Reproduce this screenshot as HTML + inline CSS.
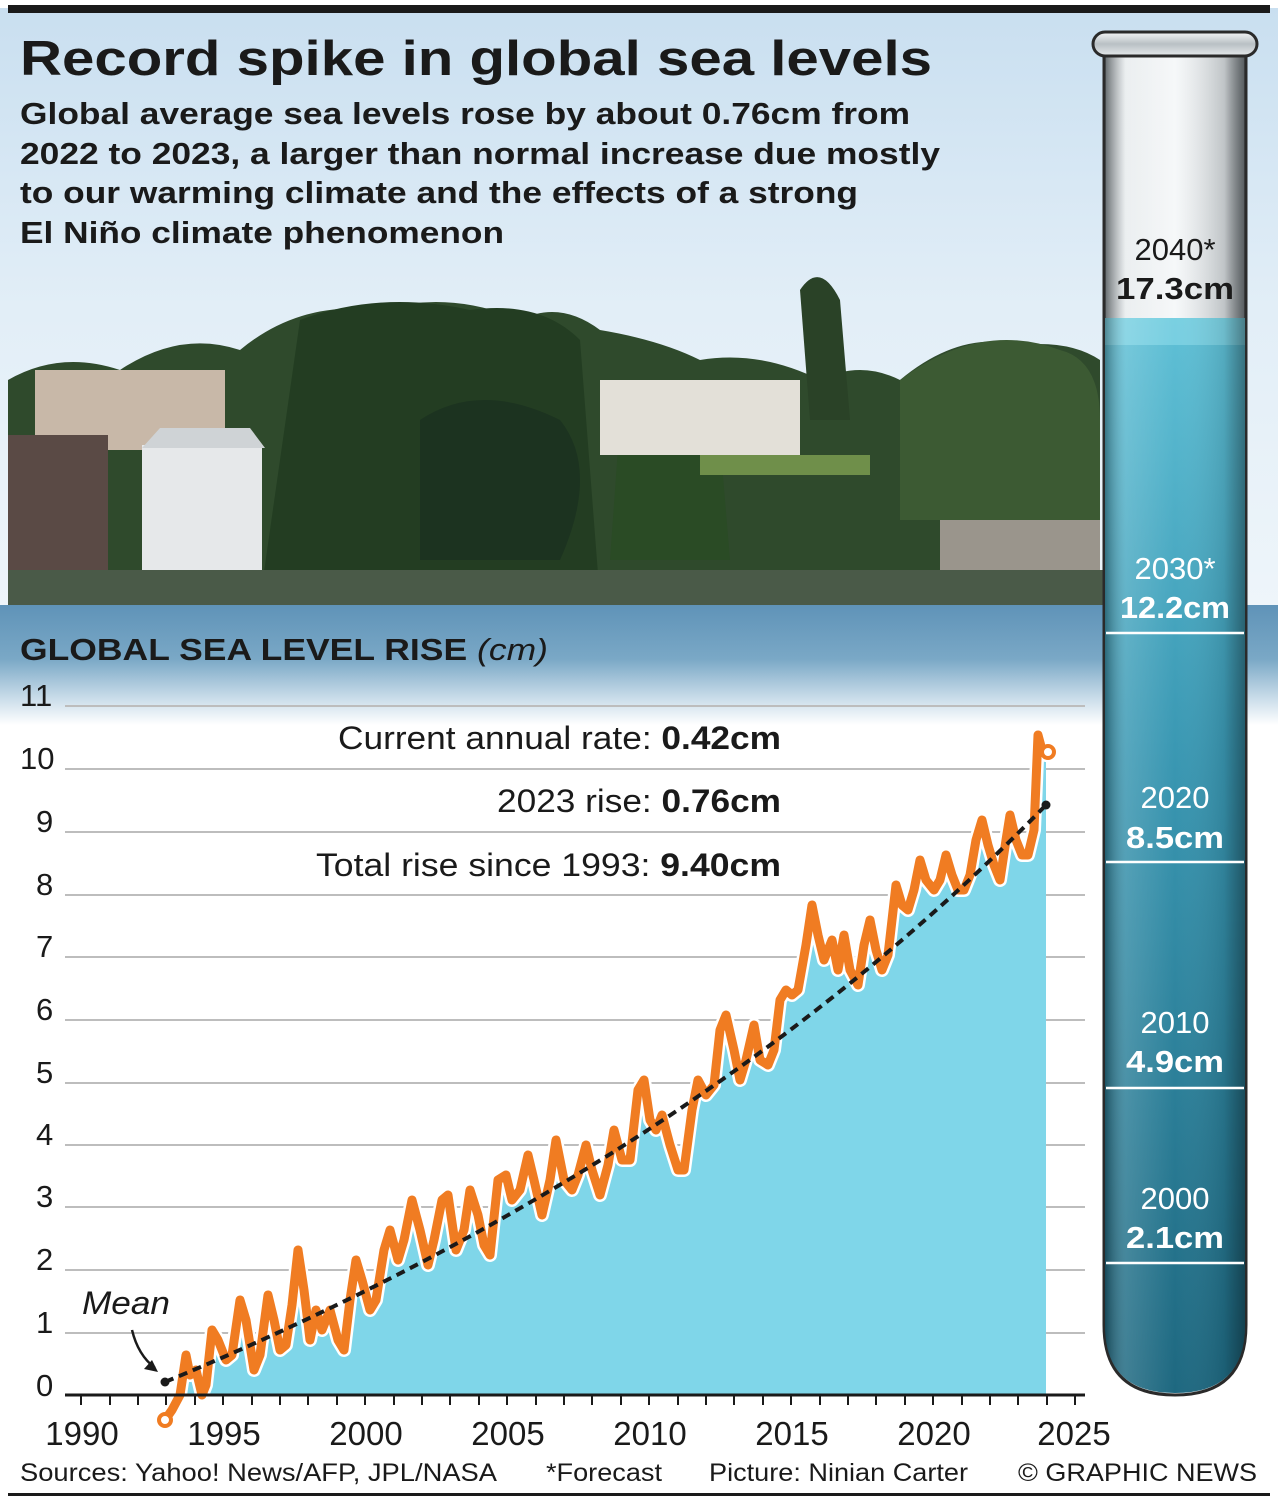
<!DOCTYPE html>
<html><head><meta charset="utf-8"><style>
body{margin:0;width:1278px;height:1502px;overflow:hidden;background:#fff;font-family:"Liberation Sans",sans-serif;}
</style></head><body>
<svg width="1278" height="1502" viewBox="0 0 1278 1502" xmlns="http://www.w3.org/2000/svg" font-family="Liberation Sans, sans-serif">
<defs>
<linearGradient id="sky" x1="0" y1="0" x2="0" y2="1">
<stop offset="0" stop-color="#c9dff0"/><stop offset="0.5" stop-color="#e2eef7"/><stop offset="1" stop-color="#eef5fa"/></linearGradient>
<linearGradient id="water" x1="0" y1="0" x2="0" y2="1">
<stop offset="0" stop-color="#5f93b8"/><stop offset="0.45" stop-color="#7aa8c6"/><stop offset="0.8" stop-color="#cfe0ec"/><stop offset="1" stop-color="#ffffff"/></linearGradient>
<linearGradient id="tw" x1="0" y1="0" x2="0" y2="1">
<stop offset="0" stop-color="#5fc0d6"/><stop offset="0.4" stop-color="#3a98b3"/><stop offset="1" stop-color="#1e6880"/></linearGradient>
<linearGradient id="tg" x1="0" y1="0" x2="1" y2="0">
<stop offset="0" stop-color="#9aa3a8"/><stop offset="0.15" stop-color="#e8ecee"/><stop offset="0.5" stop-color="#f6f8f9"/><stop offset="0.85" stop-color="#d5dadd"/><stop offset="1" stop-color="#8d969b"/></linearGradient>
<linearGradient id="ts" x1="0" y1="0" x2="1" y2="0">
<stop offset="0" stop-color="#000" stop-opacity="0.35"/><stop offset="0.15" stop-color="#fff" stop-opacity="0.15"/><stop offset="0.5" stop-color="#fff" stop-opacity="0"/><stop offset="0.85" stop-color="#000" stop-opacity="0.1"/><stop offset="1" stop-color="#000" stop-opacity="0.4"/></linearGradient>
<linearGradient id="rim" x1="0" y1="0" x2="0" y2="1">
<stop offset="0" stop-color="#f4f6f7"/><stop offset="0.5" stop-color="#b9c0c4"/><stop offset="1" stop-color="#e6eaec"/></linearGradient>
</defs>
<rect x="0" y="8" width="1278" height="600" fill="url(#sky)"/>
<g>
<path d="M8 380 Q60 350 120 370 Q180 330 240 350 Q300 300 380 310 Q450 290 520 320 Q560 300 600 330 Q660 340 700 360 Q760 350 820 380 Q860 360 900 380 Q960 330 1020 345 Q1070 340 1100 360 L1100 600 L8 600 Z" fill="#2f4a2c"/>
<path d="M300 320 Q380 290 470 310 Q540 300 580 340 L600 600 L260 600 Z" fill="#233d22"/>
<path d="M800 290 Q820 260 840 300 L850 420 L810 420 Z" fill="#2a4227"/>
<path d="M900 380 Q980 320 1060 350 Q1100 360 1100 420 L1100 520 L900 520 Z" fill="#3c5a33"/>
<path d="M420 420 Q480 380 560 420 Q600 470 560 560 L420 560 Z" fill="#1c3320"/>
<path d="M620 420 Q680 390 720 440 L730 560 L610 560 Z" fill="#2a4b25"/>
<rect x="35" y="370" width="190" height="80" fill="#c8b8a8"/>
<rect x="8" y="435" width="100" height="145" fill="#5a4a45"/>
<rect x="142" y="445" width="120" height="130" fill="#e6e8ea"/>
<path d="M142 448 L160 428 L250 428 L265 448 Z" fill="#cfd3d6"/>
<rect x="600" y="380" width="200" height="75" fill="#e3e0d8"/>
<rect x="700" y="455" width="170" height="20" fill="#6f8f4a"/>
<rect x="940" y="520" width="160" height="70" fill="#9a958c"/>
<rect x="8" y="570" width="1095" height="40" fill="#4a5a48"/>
</g>
<rect x="0" y="605" width="1278" height="120" fill="url(#water)"/>
<rect x="0" y="0" width="1278" height="8" fill="#fff"/>
<rect x="8" y="5" width="1262" height="8" fill="#1a1a1a"/>
<text x="20" y="75" font-size="49" font-weight="bold" fill="#1a1a1a" textLength="912" lengthAdjust="spacingAndGlyphs">Record spike in global sea levels</text>
<g font-size="31" font-weight="bold" fill="#1a1a1a">
<text x="20" y="124" textLength="890" lengthAdjust="spacingAndGlyphs">Global average sea levels rose by about 0.76cm from</text>
<text x="20" y="164" textLength="920" lengthAdjust="spacingAndGlyphs">2022 to 2023, a larger than normal increase due mostly</text>
<text x="20" y="203" textLength="838" lengthAdjust="spacingAndGlyphs">to our warming climate and the effects of a strong</text>
<text x="20" y="243" textLength="484" lengthAdjust="spacingAndGlyphs">El Niño climate phenomenon</text>
</g>
<text x="20" y="660" font-size="31" font-weight="bold" fill="#1a1a1a" textLength="528" lengthAdjust="spacingAndGlyphs">GLOBAL SEA LEVEL RISE <tspan font-weight="normal" font-style="italic">(cm)</tspan></text>
<g stroke="#bdbdbd" stroke-width="2">
<line x1="65" y1="706" x2="1085" y2="706"/><line x1="65" y1="769" x2="1085" y2="769"/><line x1="65" y1="832" x2="1085" y2="832"/><line x1="65" y1="895" x2="1085" y2="895"/><line x1="65" y1="957" x2="1085" y2="957"/><line x1="65" y1="1020" x2="1085" y2="1020"/><line x1="65" y1="1083" x2="1085" y2="1083"/><line x1="65" y1="1145" x2="1085" y2="1145"/><line x1="65" y1="1207" x2="1085" y2="1207"/><line x1="65" y1="1270" x2="1085" y2="1270"/><line x1="65" y1="1333" x2="1085" y2="1333"/>
</g>
<g font-size="31" fill="#1a1a1a">
<text x="20" y="706">11</text><text x="20" y="769">10</text><text x="36" y="832">9</text><text x="36" y="895">8</text><text x="36" y="957">7</text><text x="36" y="1020">6</text><text x="36" y="1083">5</text><text x="36" y="1145">4</text><text x="36" y="1207">3</text><text x="36" y="1270">2</text><text x="36" y="1333">1</text><text x="36" y="1396">0</text>
</g>
<polygon fill="#7fd6e9" points="180,1395 186,1355 190,1375 196,1370 202,1395 206,1385 212,1330 218,1340 226,1360 232,1355 240,1300 246,1320 254,1370 260,1355 268,1295 274,1320 280,1350 286,1345 292,1305 298,1250 304,1290 310,1340 316,1310 322,1330 330,1310 338,1340 344,1350 350,1300 356,1260 362,1280 370,1310 376,1300 384,1250 390,1230 398,1260 404,1240 412,1200 420,1230 428,1265 434,1240 442,1200 448,1195 456,1250 464,1230 470,1190 478,1215 484,1245 490,1255 498,1180 506,1175 512,1200 520,1190 528,1155 534,1180 542,1215 550,1180 556,1140 564,1180 572,1190 578,1175 586,1145 592,1170 600,1195 608,1165 614,1130 622,1160 630,1160 638,1090 644,1080 650,1120 656,1130 662,1115 670,1145 678,1170 684,1170 692,1110 698,1080 706,1095 714,1085 720,1030 726,1015 734,1050 740,1080 746,1060 754,1025 760,1060 768,1065 774,1050 780,1000 786,990 792,995 798,990 806,945 812,905 818,935 824,960 832,940 838,970 844,935 850,970 858,985 864,945 870,920 876,950 882,970 888,955 896,885 902,905 908,910 914,890 920,860 926,880 934,890 940,880 946,855 952,875 958,890 964,890 970,875 976,840 982,820 988,845 994,865 1000,880 1006,840 1010,815 1016,840 1022,855 1028,855 1034,830 1038,735 1042,750 1046,755 1046,1395"/>
<polyline fill="none" stroke="#fff" stroke-width="14" stroke-linejoin="round" stroke-linecap="round" points="165,1420 172,1410 180,1395 186,1355 190,1375 196,1370 202,1395 206,1385 212,1330 218,1340 226,1360 232,1355 240,1300 246,1320 254,1370 260,1355 268,1295 274,1320 280,1350 286,1345 292,1305 298,1250 304,1290 310,1340 316,1310 322,1330 330,1310 338,1340 344,1350 350,1300 356,1260 362,1280 370,1310 376,1300 384,1250 390,1230 398,1260 404,1240 412,1200 420,1230 428,1265 434,1240 442,1200 448,1195 456,1250 464,1230 470,1190 478,1215 484,1245 490,1255 498,1180 506,1175 512,1200 520,1190 528,1155 534,1180 542,1215 550,1180 556,1140 564,1180 572,1190 578,1175 586,1145 592,1170 600,1195 608,1165 614,1130 622,1160 630,1160 638,1090 644,1080 650,1120 656,1130 662,1115 670,1145 678,1170 684,1170 692,1110 698,1080 706,1095 714,1085 720,1030 726,1015 734,1050 740,1080 746,1060 754,1025 760,1060 768,1065 774,1050 780,1000 786,990 792,995 798,990 806,945 812,905 818,935 824,960 832,940 838,970 844,935 850,970 858,985 864,945 870,920 876,950 882,970 888,955 896,885 902,905 908,910 914,890 920,860 926,880 934,890 940,880 946,855 952,875 958,890 964,890 970,875 976,840 982,820 988,845 994,865 1000,880 1006,840 1010,815 1016,840 1022,855 1028,855 1034,830 1038,735 1042,750 1046,755"/>
<polyline fill="none" stroke="#f07c22" stroke-width="9" stroke-linejoin="round" stroke-linecap="round" points="165,1420 172,1410 180,1395 186,1355 190,1375 196,1370 202,1395 206,1385 212,1330 218,1340 226,1360 232,1355 240,1300 246,1320 254,1370 260,1355 268,1295 274,1320 280,1350 286,1345 292,1305 298,1250 304,1290 310,1340 316,1310 322,1330 330,1310 338,1340 344,1350 350,1300 356,1260 362,1280 370,1310 376,1300 384,1250 390,1230 398,1260 404,1240 412,1200 420,1230 428,1265 434,1240 442,1200 448,1195 456,1250 464,1230 470,1190 478,1215 484,1245 490,1255 498,1180 506,1175 512,1200 520,1190 528,1155 534,1180 542,1215 550,1180 556,1140 564,1180 572,1190 578,1175 586,1145 592,1170 600,1195 608,1165 614,1130 622,1160 630,1160 638,1090 644,1080 650,1120 656,1130 662,1115 670,1145 678,1170 684,1170 692,1110 698,1080 706,1095 714,1085 720,1030 726,1015 734,1050 740,1080 746,1060 754,1025 760,1060 768,1065 774,1050 780,1000 786,990 792,995 798,990 806,945 812,905 818,935 824,960 832,940 838,970 844,935 850,970 858,985 864,945 870,920 876,950 882,970 888,955 896,885 902,905 908,910 914,890 920,860 926,880 934,890 940,880 946,855 952,875 958,890 964,890 970,875 976,840 982,820 988,845 994,865 1000,880 1006,840 1010,815 1016,840 1022,855 1028,855 1034,830 1038,735 1042,750 1046,755"/>
<circle cx="165" cy="1420" r="6" fill="#fff" stroke="#f07c22" stroke-width="4"/>
<circle cx="1048" cy="752" r="6" fill="#fff" stroke="#f07c22" stroke-width="4"/>
<path d="M165 1382 Q700 1160 1046 805" fill="none" stroke="#1a1a1a" stroke-width="4" stroke-dasharray="9 6"/>
<circle cx="165" cy="1382" r="4.5" fill="#1a1a1a"/><circle cx="1046" cy="805" r="4.5" fill="#1a1a1a"/>
<text x="82" y="1314" font-size="32" font-style="italic" fill="#1a1a1a" textLength="88" lengthAdjust="spacingAndGlyphs">Mean</text>
<path d="M132 1330 Q138 1355 155 1368" fill="none" stroke="#1a1a1a" stroke-width="2.5"/>
<path d="M158 1372 L144 1369 L152 1360 Z" fill="#1a1a1a"/>
<line x1="65" y1="1395" x2="1085" y2="1395" stroke="#1a1a1a" stroke-width="3"/>
<path stroke="#1a1a1a" stroke-width="2" d="M81 1395v10M110 1395v10M138 1395v10M166 1395v10M195 1395v10M223 1395v10M252 1395v10M280 1395v10M308 1395v10M337 1395v10M365 1395v10M394 1395v10M422 1395v10M450 1395v10M479 1395v10M507 1395v10M536 1395v10M564 1395v10M592 1395v10M621 1395v10M649 1395v10M678 1395v10M706 1395v10M734 1395v10M763 1395v10M791 1395v10M820 1395v10M848 1395v10M876 1395v10M905 1395v10M933 1395v10M962 1395v10M990 1395v10M1018 1395v10M1047 1395v10M1075 1395v10"/>
<g font-size="33" fill="#1a1a1a" text-anchor="middle">
<text x="82" y="1445">1990</text><text x="224" y="1445">1995</text><text x="366" y="1445">2000</text><text x="508" y="1445">2005</text><text x="650" y="1445">2010</text><text x="792" y="1445">2015</text><text x="934" y="1445">2020</text><text x="1074" y="1445">2025</text>
</g>
<g font-size="32" fill="#1a1a1a">
<text x="338" y="749" textLength="443" lengthAdjust="spacingAndGlyphs">Current annual rate: <tspan font-weight="bold">0.42cm</tspan></text>
<text x="497" y="812" textLength="284" lengthAdjust="spacingAndGlyphs">2023 rise: <tspan font-weight="bold">0.76cm</tspan></text>
<text x="316" y="876" textLength="465" lengthAdjust="spacingAndGlyphs">Total rise since 1993: <tspan font-weight="bold">9.40cm</tspan></text>
</g>
<path d="M1104 50 L1104 1325 Q1104 1395 1175 1395 Q1246 1395 1246 1325 L1246 50 Z" fill="url(#tg)" stroke="#2a2a2a" stroke-width="3"/>
<path d="M1105 318 L1105 1325 Q1105 1393 1175 1393 Q1245 1393 1245 1325 L1245 318 Z" fill="url(#tw)"/>
<path d="M1105 318 L1245 318 L1245 345 L1105 345 Z" fill="#7fd3e4" opacity="0.8"/>
<path d="M1105 50 L1105 1325 Q1105 1393 1175 1393 Q1245 1393 1245 1325 L1245 50 Z" fill="url(#ts)"/>
<rect x="1093" y="32" width="164" height="24" rx="12" fill="url(#rim)" stroke="#2a2a2a" stroke-width="3"/>
<g stroke="#fff" stroke-width="2.5"><line x1="1106" y1="633" x2="1244" y2="633"/><line x1="1106" y1="862" x2="1244" y2="862"/><line x1="1106" y1="1088" x2="1244" y2="1088"/><line x1="1106" y1="1263" x2="1244" y2="1263"/></g>
<g text-anchor="middle" font-size="31">
<text x="1175" y="260" fill="#1a1a1a">2040*</text><text x="1175" y="299" fill="#1a1a1a" font-weight="bold" textLength="118" lengthAdjust="spacingAndGlyphs">17.3cm</text>
<text x="1175" y="579" fill="#fff">2030*</text><text x="1175" y="618" fill="#fff" font-weight="bold" textLength="110" lengthAdjust="spacingAndGlyphs">12.2cm</text>
<text x="1175" y="808" fill="#fff">2020</text><text x="1175" y="848" fill="#fff" font-weight="bold" textLength="98" lengthAdjust="spacingAndGlyphs">8.5cm</text>
<text x="1175" y="1033" fill="#fff">2010</text><text x="1175" y="1072" fill="#fff" font-weight="bold" textLength="98" lengthAdjust="spacingAndGlyphs">4.9cm</text>
<text x="1175" y="1209" fill="#fff">2000</text><text x="1175" y="1248" fill="#fff" font-weight="bold" textLength="98" lengthAdjust="spacingAndGlyphs">2.1cm</text>
</g>
<g font-size="25" fill="#1a1a1a">
<text x="20" y="1481" textLength="477" lengthAdjust="spacingAndGlyphs">Sources: Yahoo! News/AFP, JPL/NASA</text>
<text x="546" y="1481" textLength="116" lengthAdjust="spacingAndGlyphs">*Forecast</text>
<text x="709" y="1481" textLength="259" lengthAdjust="spacingAndGlyphs">Picture: Ninian Carter</text>
<text x="1018" y="1481" textLength="239" lengthAdjust="spacingAndGlyphs">© GRAPHIC NEWS</text>
</g>
<rect x="8" y="1493" width="1262" height="3" fill="#1a1a1a"/>
</svg>
</body></html>
